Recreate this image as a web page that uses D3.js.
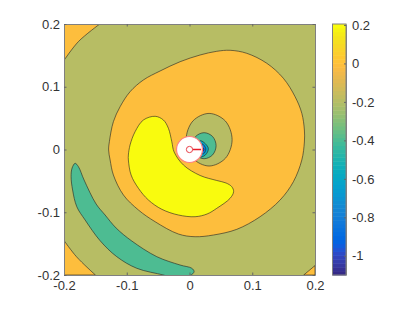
<!DOCTYPE html>
<html>
<head>
<meta charset="utf-8">
<script src="https://cdn.jsdelivr.net/npm/d3@7"></script>
<style>
    body { margin: 0; background: #fff; }
    text { font-family: "Liberation Sans", Arial, sans-serif; }
</style>
</head>
<body>
<svg id="chart" width="411" height="309"></svg>
<script>
// Contours, [x, y] in data units
const outerOrange = [[-.1289,-.0008],[-.1277,.0124],[-.1213,.0443],[-.1106,.0682],[-.0947,.0921],[-.0735,.1108],[-.0469,.1251],[-.0150,.1399],[.0169,.1506],[.0435,.1565],[.0647,.1581],[.0913,.1533],[.1232,.1374],[.1496,.1135],[.1683,.0841],[.1790,.0577],[.1831,.0311],[.1831,.0120],[.1790,-.0167],[.1656,-.0513],[.1444,-.0805],[.1125,-.1071],[.0754,-.1272],[.0381,-.1363],[.0089,-.1390],[-.0177,-.1347],[-.0548,-.1151],[-.0814,-.0964],[-.1053,-.0725],[-.1213,-.0406],[-.1265,-.0167]];
const yellowLobe = [[-.0548,.0529],[-.0416,.0470],[-.0336,.0338],[-.0282,.0124],[-.0245,-.0040],[-.0097,-.0247],[.0169,-.0414],[.0435,-.0494],[.0583,-.0534],[.0674,-.0593],[.0703,-.0672],[.0647,-.0778],[.0435,-.0937],[.0280,-.1028],[.0089,-.1071],[-.0177,-.1044],[-.0441,-.0953],[-.0655,-.0805],[-.0814,-.0618],[-.0931,-.0406],[-.0974,-.0167],[-.0974,-.0088],[-.0947,.0073],[-.0867,.0284],[-.0735,.0470]];
const greenCrescent = [[-.1823,-.0220],[-.1770,-.0274],[-.1680,-.0486],[-.1488,-.0869],[-.1345,-.1044],[-.1170,-.1251],[-.0920,-.1458],[-.0521,-.1708],[-.0150,-.1841],[.0037,-.1893],[.0073,-.1947],[.0010,-.2008],[-.023,-.2048],[-.0416,-.2],[-.0840,-.1893],[-.1159,-.1708],[-.1425,-.1453],[-.1664,-.1123],[-.1796,-.0912],[-.1863,-.0645],[-.1887,-.0433],[-.1871,-.0295]];
const oliveRing = [[.0312,.0575],[.0572,.0453],[.0679,.0156],[.0572,-.0140],[.0312,-.0263],[.0053,-.0140],[-.0054,.0156],[.0053,.0453]];
const greenRing = [[.0233,.0268],[.0368,.0207],[.0424,.0061],[.0368,-.0086],[.0233,-.0147],[.0097,-.0086],[.0041,.0061],[.0097,.0207]];
const tealRing = [[.018,.014],[.030,.002],[.025,-.009],[.014,-.012],[.004,-.001],[.009,.010]];
const blueRing = [[.020,.009],[.026,.001],[.022,-.007],[.012,.000]];
const darkRing = [[.021,.003],[.023,.000],[.021,-.003],[.019,.000]];

const cornerTopLeft = [[-.2,.142],[-.177,.172],[-.143,.2]];
const cornerBottomLeft = [[-.2,-.145],[-.18,-.171],[-.15,-.2]];
const cornerBottomRight = [[.2,-.185],[.182,-.2]];

const closedContours = [
    { level: 0, points: outerOrange },
    { level: 0.2, points: yellowLobe },
    { level: -0.4, points: greenCrescent },
    { level: -0.2, points: oliveRing },
    { level: -0.4, points: greenRing },
    { level: -0.6, points: tealRing },
    { level: -0.8, points: blueRing },
    { level: -1, points: darkRing },
];
const cornerContours = [
    { level: 0, points: cornerTopLeft, corner: [-.2, .2] },
    { level: 0, points: cornerBottomLeft, corner: [-.2, -.2] },
    { level: 0, points: cornerBottomRight, corner: [.2, -.2] },
];

const backgroundLevel = -0.2;
const axisTicks = [-0.2, -0.1, 0, 0.1, 0.2];
const barTicks = [0.2, 0, -0.2, -0.4, -0.6, -0.8, -1];
const barDomain = [-1.1, 0.205];

// the probe drawn at the origin
const probeCenter = [0, 0];
const probeTip = [0.0185, 0];
const probeRadius = 0.0207;
const probeInnerRadius = 0.005;

// parula, 64 entries
const parula = [[.2081,.1663,.5292],[.2116,.1898,.5777],[.2123,.2138,.6270],[.2081,.2386,.6771],[.1959,.2645,.7279],[.1707,.2919,.7792],[.1253,.3242,.8303],[.0591,.3598,.8683],[.0117,.3875,.8820],[.0060,.4086,.8828],[.0165,.4266,.8786],[.0329,.4430,.8720],[.0498,.4586,.8641],[.0629,.4737,.8554],[.0723,.4887,.8467],[.0779,.5040,.8384],[.0793,.5200,.8312],[.0749,.5375,.8263],[.0641,.5570,.8240],[.0488,.5772,.8228],[.0343,.5966,.8199],[.0265,.6137,.8135],[.0239,.6287,.8038],[.0231,.6418,.7913],[.0228,.6535,.7768],[.0267,.6642,.7607],[.0384,.6743,.7436],[.0590,.6838,.7254],[.0843,.6928,.7062],[.1133,.7015,.6859],[.1453,.7098,.6646],[.1801,.7177,.6424],[.2178,.7250,.6193],[.2586,.7317,.5954],[.3022,.7376,.5712],[.3482,.7424,.5473],[.3953,.7459,.5244],[.4420,.7481,.5033],[.4871,.7491,.4840],[.5300,.7491,.4661],[.5709,.7485,.4494],[.6099,.7473,.4337],[.6473,.7456,.4188],[.6834,.7435,.4044],[.7184,.7411,.3905],[.7525,.7384,.3768],[.7858,.7356,.3633],[.8185,.7327,.3498],[.8507,.7299,.3360],[.8824,.7274,.3217],[.9139,.7258,.3063],[.9450,.7261,.2886],[.9739,.7314,.2666],[.9938,.7455,.2403],[.9990,.7653,.2164],[.9955,.7861,.1967],[.9880,.8066,.1794],[.9789,.8271,.1633],[.9697,.8481,.1475],[.9626,.8705,.1309],[.9589,.8949,.1132],[.9598,.9218,.0948],[.9661,.9514,.0755],[.9763,.9831,.0538]];

const svg = d3.select('#chart');

const plot = { left: 64, right: 315, top: 24, bottom: 275 };
const bar = { left: 332.5, right: 346, top: 24, bottom: 275 };

const x = d3.scaleLinear().domain([-0.2, 0.2]).range([plot.left, plot.right]);
const y = d3.scaleLinear().domain([-0.2, 0.2]).range([plot.bottom, plot.top]);
const barY = d3.scaleLinear().domain(barDomain).range([bar.bottom, bar.top]);

const colour = d3.scaleQuantize()
    .domain(barDomain)
    .range(parula.map(c => d3.rgb(c[0] * 255, c[1] * 255, c[2] * 255).formatHex()));

svg.append('clipPath').attr('id', 'plot-clip')
    .append('rect')
    .attr('x', plot.left).attr('y', plot.top)
    .attr('width', plot.right - plot.left).attr('height', plot.bottom - plot.top);

const layer = svg.append('g').attr('clip-path', 'url(#plot-clip)');

layer.append('rect')
    .attr('x', plot.left).attr('y', plot.top)
    .attr('width', plot.right - plot.left).attr('height', plot.bottom - plot.top)
    .attr('fill', colour(backgroundLevel));

const closedLine = d3.line().x(d => x(d[0])).y(d => y(d[1])).curve(d3.curveCatmullRomClosed.alpha(0.5));
const openLine = d3.line().x(d => x(d[0])).y(d => y(d[1])).curve(d3.curveCatmullRom.alpha(0.5));

layer.selectAll('.corner')
    .data(cornerContours)
    .join('path')
    .attr('class', 'corner')
    .attr('d', d => `${openLine(d.points)}L${x(d.corner[0])},${y(d.corner[1])}Z`)
    .attr('fill', d => colour(d.level))
    .attr('stroke', '#222')
    .attr('stroke-width', 0.6);

layer.selectAll('.contour')
    .data(closedContours)
    .join('path')
    .attr('class', 'contour')
    .attr('d', d => closedLine(d.points))
    .attr('fill', d => colour(d.level))
    .attr('stroke', '#222')
    .attr('stroke-width', 0.6);

// Probe marker
const radiusPx = (r) => x(r) - x(0);
layer.append('circle')
    .attr('cx', x(probeCenter[0])).attr('cy', y(probeCenter[1]))
    .attr('r', radiusPx(probeRadius))
    .attr('fill', '#fff').attr('stroke', '#ff7f7f').attr('stroke-width', 1.2);
layer.append('line')
    .attr('x1', x(probeCenter[0])).attr('y1', y(probeCenter[1]))
    .attr('x2', x(probeTip[0])).attr('y2', y(probeTip[1]))
    .attr('stroke', '#e81c2a').attr('stroke-width', 1.5);
layer.append('circle')
    .attr('cx', x(probeCenter[0])).attr('cy', y(probeCenter[1]))
    .attr('r', radiusPx(probeInnerRadius))
    .attr('fill', '#fff').attr('stroke', '#e8404a').attr('stroke-width', 1);

// Axes
const styleAxis = (g) => {
    g.selectAll('path').attr('stroke', '#808080').attr('stroke-width', 1);
    g.selectAll('line').attr('stroke', '#666');
    g.selectAll('text').attr('fill', '#333').attr('font-size', 13).attr('font-family', '"Liberation Sans", Arial, sans-serif');
};

svg.append('g').attr('transform', `translate(0,${plot.bottom})`)
    .call(d3.axisBottom(x).tickValues(axisTicks).tickFormat(String).tickSizeInner(-2.5).tickSizeOuter(0).tickPadding(6))
    .call(styleAxis);
svg.append('g').attr('transform', `translate(0,${plot.top})`)
    .call(d3.axisTop(x).tickValues(axisTicks).tickFormat('').tickSizeInner(-2.5).tickSizeOuter(0))
    .call(styleAxis);
svg.append('g').attr('transform', `translate(${plot.left},0)`)
    .call(d3.axisLeft(y).tickValues(axisTicks).tickFormat(String).tickSizeInner(-2.5).tickSizeOuter(0).tickPadding(4))
    .call(styleAxis);
svg.append('g').attr('transform', `translate(${plot.right},0)`)
    .call(d3.axisRight(y).tickValues(axisTicks).tickFormat('').tickSizeInner(-2.5).tickSizeOuter(0))
    .call(styleAxis);

// Colour bar: one flat step per colormap entry
const stepSize = (barDomain[1] - barDomain[0]) / parula.length;
const barSteps = d3.range(parula.length).map(i => barDomain[0] + stepSize * i);
svg.append('g').selectAll('rect')
    .data(barSteps)
    .join('rect')
    .attr('x', bar.left)
    .attr('width', bar.right - bar.left)
    .attr('y', d => barY(d + stepSize))
    .attr('height', d => barY(d) - barY(d + stepSize) + 0.5)
    .attr('fill', d => colour(d + stepSize / 2));

svg.append('rect')
    .attr('x', bar.left).attr('y', bar.top)
    .attr('width', bar.right - bar.left).attr('height', bar.bottom - bar.top)
    .attr('fill', 'none').attr('stroke', '#808080');

svg.append('g').attr('transform', `translate(${bar.right},0)`)
    .call(d3.axisRight(barY).tickValues(barTicks).tickFormat(String).tickSizeInner(-2).tickSizeOuter(0).tickPadding(6))
    .call(styleAxis);
</script>
</body>
</html>
